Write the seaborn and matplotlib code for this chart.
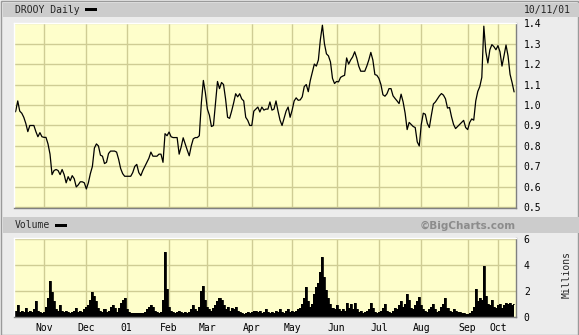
import numpy as np
import pandas as pd
import matplotlib
matplotlib.use("Agg")
import matplotlib.pyplot as plt
from matplotlib.patches import Rectangle
import seaborn as sns

# ---------------- data ----------------
ticker_title = "DROOY Daily"
end_label = "10/11/01"
holidays = ["2000-11-23", "2000-12-25", "2001-01-01", "2001-01-15", "2001-02-19",
            "2001-04-13", "2001-05-28", "2001-07-04", "2001-09-03",
            "2001-09-11", "2001-09-12", "2001-09-13", "2001-09-14"]
start_date = "2000-10-11"
end_date = "2001-10-11"

price = [0.96, 0.97, 1.02, 0.97, 0.96, 0.94, 0.91, 0.87, 0.90, 0.90,
         0.90, 0.87, 0.845, 0.865, 0.845, 0.842, 0.842, 0.81, 0.76, 0.66,
         0.68, 0.685, 0.68, 0.66, 0.685, 0.66, 0.62, 0.65, 0.63, 0.655,
         0.64, 0.60, 0.61, 0.625, 0.625, 0.62, 0.59, 0.62, 0.665, 0.70,
         0.79, 0.81, 0.80, 0.755, 0.75, 0.714, 0.72, 0.763, 0.775, 0.775,
         0.775, 0.77, 0.735, 0.69, 0.665, 0.652, 0.652, 0.652, 0.652, 0.67,
         0.70, 0.71, 0.67, 0.655, 0.68, 0.70, 0.72, 0.74, 0.77, 0.75,
         0.75, 0.75, 0.76, 0.76, 0.72, 0.86, 0.85, 0.868, 0.845, 0.841,
         0.841, 0.841, 0.76, 0.795, 0.84, 0.81, 0.78, 0.752, 0.80, 0.835,
         0.841, 0.841, 0.85, 1.01, 1.12, 1.06, 0.98, 0.95, 0.895, 0.90,
         1.01, 1.115, 1.08, 1.11, 1.10, 1.03, 0.94, 0.935, 0.97, 1.01,
         1.055, 1.04, 1.055, 1.03, 1.02, 0.94, 0.925, 0.90, 0.90, 0.97,
         0.98, 0.99, 0.966, 0.99, 0.975, 0.98, 0.98, 1.015, 0.975, 0.98, 1.02,
         0.97, 0.926, 0.90, 0.935, 0.97, 0.99, 0.94, 0.975, 1.02, 1.035,
         1.023, 1.025, 1.04, 1.09, 1.10, 1.065, 1.12, 1.16, 1.20, 1.19,
         1.22, 1.32, 1.39, 1.30, 1.25, 1.24, 1.21, 1.13, 1.105, 1.115,
         1.113, 1.135, 1.141, 1.145, 1.23, 1.20, 1.22, 1.235, 1.26, 1.23,
         1.19, 1.165, 1.165, 1.165, 1.19, 1.22, 1.257, 1.22, 1.149, 1.145,
         1.13, 1.10, 1.05, 1.043, 1.055, 1.08, 1.08, 1.045, 1.032, 1.02,
         1.007, 1.053, 1.015, 0.96, 0.88, 0.915, 0.905, 0.895, 0.89, 0.82,
         0.80, 0.905, 0.96, 0.955, 0.91, 0.89, 0.95, 1.005, 1.015, 1.03,
         1.045, 1.056, 1.048, 1.03, 0.985, 0.988, 0.942, 0.905, 0.885, 0.895,
         0.905, 0.915, 0.925, 0.89, 0.88, 0.915, 0.932, 0.926, 1.02, 1.066,
         1.09, 1.135, 1.385, 1.26, 1.205, 1.27, 1.295, 1.285, 1.27, 1.29,
         1.26, 1.19, 1.24, 1.293, 1.24, 1.15, 1.11, 1.064]

volume_m = [0.3, 0.5, 0.9, 0.4, 0.5, 0.4, 0.7, 0.4, 0.5, 0.4,
            0.6, 1.2, 0.5, 0.4, 0.3, 0.4, 0.8, 1.5, 2.8, 1.9,
            1.2, 0.6, 0.5, 0.9, 0.5, 0.4, 0.5, 0.4, 0.3, 0.4,
            0.5, 0.7, 0.4, 0.5, 0.4, 0.6, 0.8, 0.9, 1.3, 1.9,
            1.6, 1.2, 0.7, 0.5, 0.4, 0.6, 0.4, 0.5, 0.8, 0.9,
            0.7, 0.4, 0.7, 1.1, 1.3, 1.5, 0.6, 0.4, 0.3, 0.3,
            0.3, 0.3, 0.3, 0.3, 0.3, 0.4, 0.6, 0.8, 0.9, 0.8,
            0.5, 0.4, 0.3, 0.4, 1.3, 5.0, 2.2, 0.8, 0.5, 0.4,
            0.3, 0.4, 0.5, 0.4, 0.3, 0.4, 0.3, 0.4, 0.6, 0.9,
            0.6, 0.5, 0.8, 2.0, 2.4, 1.3, 0.8, 0.6, 0.5, 0.7,
            0.9, 1.2, 1.5, 1.3, 0.9, 0.6, 0.8, 0.5, 0.7, 0.6,
            0.8, 0.5, 0.4, 0.3, 0.2, 0.3, 0.4, 0.3, 0.4, 0.5,
            0.45, 0.4, 0.5, 0.3, 0.4, 0.6, 0.4, 0.3, 0.4, 0.3, 0.5,
            0.4, 0.6, 0.4, 0.3, 0.5, 0.6, 0.4, 0.5, 0.4, 0.5,
            0.6, 0.7, 1.0, 1.5, 2.3, 1.2, 0.8, 1.0, 1.8, 2.3,
            2.6, 3.5, 4.6, 3.1, 2.1, 1.5, 1.0, 0.7, 0.6, 0.9,
            0.6, 0.5, 0.6, 0.5, 1.1, 0.7, 1.0, 0.6, 1.05, 0.6,
            0.4, 0.5, 0.3, 0.4, 0.5, 0.6, 1.1, 0.7, 0.4, 0.3,
            0.4, 0.5, 0.7, 1.0, 0.5, 0.4, 0.3, 0.5, 0.7, 0.6,
            0.9, 1.2, 0.8, 1.0, 1.8, 1.3, 0.7, 0.6, 0.9, 1.2,
            1.55, 0.9, 0.6, 0.5, 0.4, 0.6, 0.8, 1.0, 0.6, 0.4,
            0.5, 0.8, 1.0, 1.5, 0.7, 0.5, 0.4, 0.6, 0.5, 0.4,
            0.4, 0.3, 0.3, 0.2, 0.2, 0.3, 0.5, 0.8, 2.2, 1.2,
            1.5, 1.3, 3.9, 1.6, 1.0, 0.9, 1.3, 0.8, 0.7, 0.9,
            1.0, 0.7, 0.9, 1.1, 1.0, 1.1, 0.9, 1.0]

price_ticks = [0.5, 0.6, 0.7, 0.8, 0.9, 1.0, 1.1, 1.2, 1.3, 1.4]
volume_ticks = [0, 2, 4, 6]
month_labels = ["Nov", "Dec", "01", "Feb", "Mar", "Apr", "May", "Jun",
                "Jul", "Aug", "Sep", "Oct"]

# ---------------- build frame ----------------
dates = pd.bdate_range(start_date, end_date, freq="C", holidays=holidays)
n = min(len(dates), len(price), len(volume_m))
df = pd.DataFrame({"date": dates[:n], "price": price[:n], "volume": volume_m[:n]})
df["idx"] = np.arange(len(df))
first_of_month = df.groupby([df.date.dt.year, df.date.dt.month])["idx"].min().values[1:]

# ---------------- styling ----------------
sns.set_theme(style="white")
plt.rcParams["font.family"] = ["DejaVu Sans Mono", "DejaVu Sans"]

W, H = 579, 335
fig = plt.figure(figsize=(W / 100, H / 100), dpi=100, facecolor="#ececec")

def fx(px):
    return px / W

def fy(py):
    return 1 - py / H

bg = "#fefecb"
grid_c = "#cfcc94"
txt_size = 7
x_lo, x_hi = 0.15, 248.7

# outer border
fig.patches.append(Rectangle((0.5 / W, 0.5 / H), 1 - 1.5 / W, 1 - 1.5 / H,
                             transform=fig.transFigure, fill=False,
                             ec="#9a9a9a", lw=1, zorder=0))
# header bars
fig.patches.append(Rectangle((fx(3), fy(17)), fx(576), 14 / H, transform=fig.transFigure,
                             fc="#cccccc", ec="none", zorder=0))
fig.patches.append(Rectangle((fx(3), fy(233)), fx(576), 16 / H, transform=fig.transFigure,
                             fc="#cccccc", ec="none", zorder=0))

# axes
ax_p = fig.add_axes([fx(14), fy(208), fx(501.5), (208 - 22.5) / H])
ax_v = fig.add_axes([fx(14), fy(317), fx(501.5), (317 - 238) / H])

# price line
sns.lineplot(data=df, x="idx", y="price", ax=ax_p, color="black", lw=0.9)
# volume area
sns.lineplot(data=df, x="idx", y="volume", ax=ax_v, color="black", lw=0.6,
             drawstyle="steps-mid")
ax_v.fill_between(df["idx"], df["volume"], 0, step="mid", color="black", lw=0)

for ax in (ax_p, ax_v):
    ax.set_facecolor(bg)
    ax.set_xlim(x_lo, x_hi)
    ax.set_xticks(first_of_month)
    ax.grid(True, color=grid_c, lw=1)
    ax.set_axisbelow(True)
    ax.yaxis.tick_right()
    ax.tick_params(axis="y", length=0, pad=6, labelsize=txt_size, colors="black")
    ax.tick_params(axis="x", length=0, pad=4, labelsize=txt_size, colors="black")
    ax.spines["top"].set_color("white")
    ax.spines["left"].set_color("white")
    ax.spines["right"].set_color("#808080")
    ax.spines["bottom"].set_color("#808080")
    for s in ax.spines.values():
        s.set_linewidth(1)
    ax.set_xlabel("")
    ax.set_ylabel("")

ax_p.set_ylim(0.497, 1.403)
ax_p.set_yticks(price_ticks)
ax_p.set_yticklabels([f"{t:.1f}" for t in price_ticks])
ax_p.set_xticklabels([])

ax_v.set_ylim(0, 6.1)
ax_v.set_yticks(volume_ticks)
ax_v.set_yticklabels([str(t) for t in volume_ticks])
ax_v.set_xticklabels(month_labels[:len(first_of_month)])

# header texts
fig.text(fx(15), fy(10), ticker_title, fontsize=txt_size, va="center", ha="left")
fig.patches.append(Rectangle((fx(85), fy(11.3)), fx(12), 3 / H, transform=fig.transFigure,
                             fc="black", ec="none"))
fig.text(fx(571), fy(10), end_label, fontsize=txt_size, va="center", ha="right")

fig.text(fx(15), fy(225.5), "Volume", fontsize=txt_size, va="center", ha="left")
fig.patches.append(Rectangle((fx(55), fy(226.8)), fx(12), 3 / H, transform=fig.transFigure,
                             fc="black", ec="none"))
fig.text(fx(515.5), fy(225.5), "\u00a9BigCharts.com", fontsize=7.5, va="center",
         ha="right", color="#8c8c8c", fontweight="bold", family="DejaVu Sans")

fig.text(fx(567), fy(275), "Millions", fontsize=txt_size, va="center", ha="center",
         rotation=90)

fig.savefig("out.png", dpi=100, facecolor=fig.get_facecolor())
